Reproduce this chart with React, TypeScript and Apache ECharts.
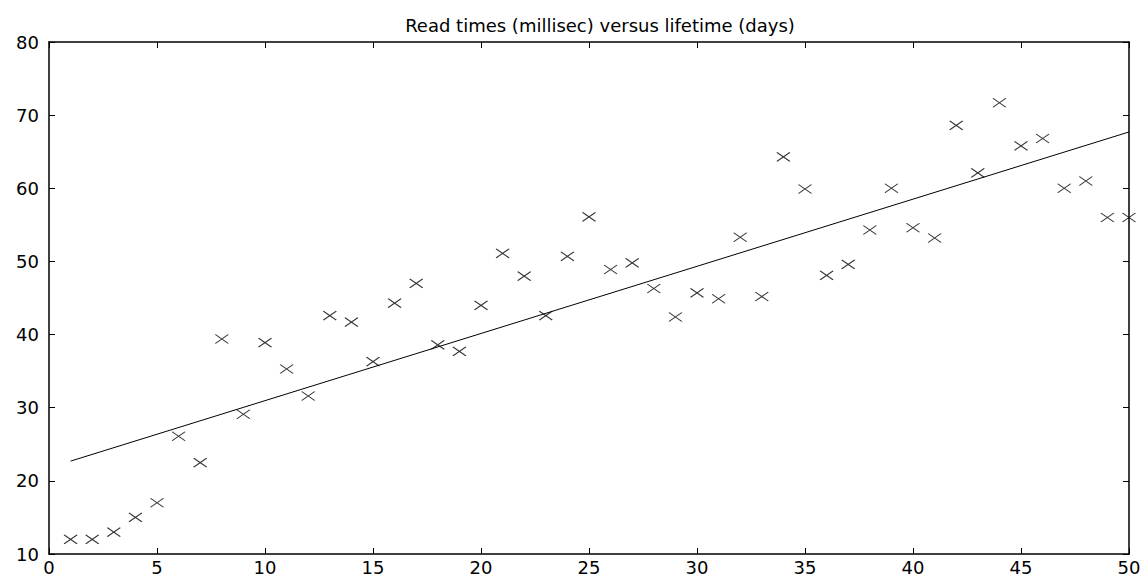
import React, { useEffect, useRef } from "react";
import * as echarts from "echarts";

const days = [1,2,3,4,5,6,7,8,9,10,11,12,13,14,15,16,17,18,19,20,21,22,23,24,25,26,27,28,29,30,31,32,33,34,35,36,37,38,39,40,41,42,43,44,45,46,47,48,49,50];
const readTimes = [12.0,12.0,13.0,15.0,17.0,26.1,22.5,39.4,29.1,38.9,35.3,31.6,42.6,41.7,36.3,44.3,47.0,38.6,37.7,44.0,51.1,48.0,42.6,50.7,56.1,48.9,49.8,46.3,42.4,45.7,44.9,53.3,45.2,64.3,59.9,48.1,49.6,54.3,60.0,54.6,53.2,68.6,62.1,71.7,65.8,66.8,60.0,61.0,56.0,56.0];
const fitX = [1, 50];
const fitY = [22.7, 67.7];
const titleText = "Read times (millisec) versus lifetime (days)";

export default function App() {
  const ref = useRef<HTMLDivElement>(null);
  useEffect(() => {
    const chart = echarts.init(ref.current!, null, { renderer: "svg" });
    const font = "DejaVu Sans";
    const axisLineStyle = { color: "#000", width: 1.5 };
    chart.setOption({
      animation: false,
      backgroundColor: "#fff",
      title: {
        text: titleText,
        left: 595,
        textAlign: "center",
        top: 11,
        textStyle: { fontFamily: font, fontSize: 18, fontWeight: "normal", color: "#000" },
      },
      grid: { left: 49, right: 18, top: 42, bottom: 24, containLabel: false },
      xAxis: [
        {
          type: "value", min: 0, max: 50, interval: 5, position: "bottom",
          axisLine: { show: true, onZero: false, lineStyle: axisLineStyle },
          axisTick: { show: true, inside: true, length: 6, lineStyle: { color: "#000" } },
          axisLabel: { color: "#000", fontFamily: font, fontSize: 18, margin: 4 },
          splitLine: { show: false },
        },
        {
          type: "value", min: 0, max: 50, interval: 5, position: "top",
          axisLine: { show: true, onZero: false, lineStyle: axisLineStyle },
          axisTick: { show: true, inside: true, length: 6, lineStyle: { color: "#000" } },
          axisLabel: { show: false },
          splitLine: { show: false },
        },
      ],
      yAxis: [
        {
          type: "value", min: 10, max: 80, interval: 10, position: "left",
          axisLine: { show: true, onZero: false, lineStyle: axisLineStyle },
          axisTick: { show: true, inside: true, length: 6, lineStyle: { color: "#000" } },
          axisLabel: { color: "#000", fontFamily: font, fontSize: 18, margin: 10 },
          splitLine: { show: false },
        },
        {
          type: "value", min: 10, max: 80, interval: 10, position: "right",
          axisLine: { show: true, onZero: false, lineStyle: axisLineStyle },
          axisTick: { show: true, inside: true, length: 6, lineStyle: { color: "#000" } },
          axisLabel: { show: false },
          splitLine: { show: false },
        },
      ],
      series: [
        {
          type: "line",
          data: fitX.map((x, i) => [x, fitY[i]]),
          symbol: "none",
          lineStyle: { color: "#000", width: 1 },
          silent: true,
          z: 2,
        },
        {
          type: "scatter",
          data: days.map((d, i) => [d, readTimes[i]]),
          symbol: "path://M0,0L10,10M10,0L0,10",
          symbolSize: [13, 9],
          itemStyle: { color: "none", borderColor: "#000", borderWidth: 1.1 },
          z: 3,
        },
      ],
    });
    return () => chart.dispose();
  }, []);
  return <div ref={ref} style={{ width: 1147, height: 578, position: "absolute", left: 0, top: 0 }} />;
}
